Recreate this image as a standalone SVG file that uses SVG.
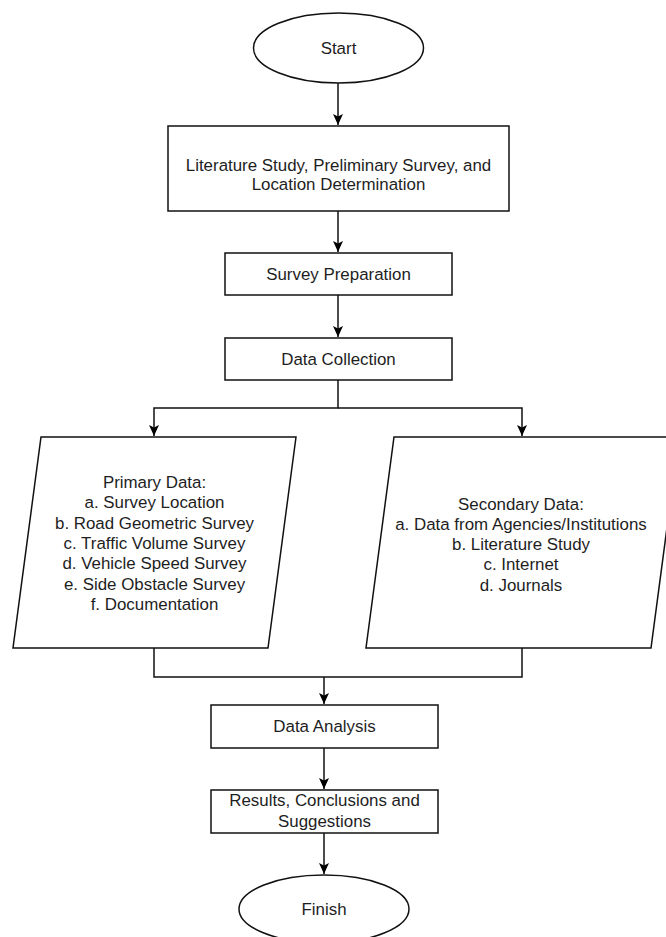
<svg xmlns="http://www.w3.org/2000/svg" width="666" height="937" viewBox="0 0 666 937">
<defs>
<marker id="arr" markerUnits="userSpaceOnUse" markerWidth="13" markerHeight="13" viewBox="0 0 13 13" refX="12" refY="6.5" orient="auto">
<path d="M1,1.5 L12,6.5 L1,11.5 L3.5,6.5 Z" fill="#000"/>
</marker>
<style>
.s{fill:#fff;stroke:#111;stroke-width:1.5}
.c{fill:none;stroke:#111;stroke-width:1.5}
.t{font-family:"Liberation Sans",Arial,sans-serif;font-size:16.9px;fill:#1e1e1e;text-anchor:middle}
</style>
</defs>
<rect width="666" height="937" fill="#fff"/>
<g id="connectors">
<path class="c" d="M338,83 V125" marker-end="url(#arr)"/>
<path class="c" d="M338,211 V252" marker-end="url(#arr)"/>
<path class="c" d="M338,295 V337" marker-end="url(#arr)"/>
<path class="c" d="M338,380 V408 H154 V436" marker-end="url(#arr)"/>
<path class="c" d="M338,408 H522 V436" marker-end="url(#arr)"/>
<path class="c" d="M154,648 V677 H522 V648"/>
<path class="c" d="M324,677 V704" marker-end="url(#arr)"/>
<path class="c" d="M324,748 V789" marker-end="url(#arr)"/>
<path class="c" d="M324,833 V874" marker-end="url(#arr)"/>
</g>
<g id="start">
<ellipse class="s" cx="338.5" cy="48" rx="85" ry="35"/>
<text class="t" x="338.5" y="54">Start</text>
</g>
<g id="literature">
<rect class="s" x="168" y="126" width="341" height="85"/>
<text class="t" x="338.5" y="171">Literature Study, Preliminary Survey, and</text>
<text class="t" x="338.5" y="190">Location Determination</text>
</g>
<g id="prep">
<rect class="s" x="225" y="253" width="227" height="42"/>
<text class="t" x="338.5" y="280">Survey Preparation</text>
</g>
<g id="collection">
<rect class="s" x="225" y="338" width="227" height="42"/>
<text class="t" x="338.5" y="365">Data Collection</text>
</g>
<g id="primary">
<polygon class="s" points="41,437 296,437 268,648 13,648"/>
<text class="t" x="154.5" y="488">Primary Data:</text>
<text class="t" x="154.5" y="508.3">a. Survey Location</text>
<text class="t" x="154.5" y="528.6">b. Road Geometric Survey</text>
<text class="t" x="154.5" y="548.9">c. Traffic Volume Survey</text>
<text class="t" x="154.5" y="569.2">d. Vehicle Speed Survey</text>
<text class="t" x="154.5" y="589.5">e. Side Obstacle Survey</text>
<text class="t" x="154.5" y="609.8">f. Documentation</text>
</g>
<g id="secondary">
<polygon class="s" points="394,437 679,437 651,648 366,648"/>
<text class="t" x="521" y="509.5">Secondary Data:</text>
<text class="t" x="521" y="529.8">a. Data from Agencies/Institutions</text>
<text class="t" x="521" y="550.1">b. Literature Study</text>
<text class="t" x="521" y="570.4">c. Internet</text>
<text class="t" x="521" y="590.7">d. Journals</text>
</g>
<g id="analysis">
<rect class="s" x="211" y="705" width="227" height="43"/>
<text class="t" x="324.5" y="732">Data Analysis</text>
</g>
<g id="results">
<rect class="s" x="211" y="790" width="227" height="43"/>
<text class="t" x="324.5" y="806">Results, Conclusions and</text>
<text class="t" x="324.5" y="827">Suggestions</text>
</g>
<g id="finish">
<ellipse class="s" cx="324" cy="909" rx="85" ry="34"/>
<text class="t" x="324" y="915">Finish</text>
</g>
</svg>
